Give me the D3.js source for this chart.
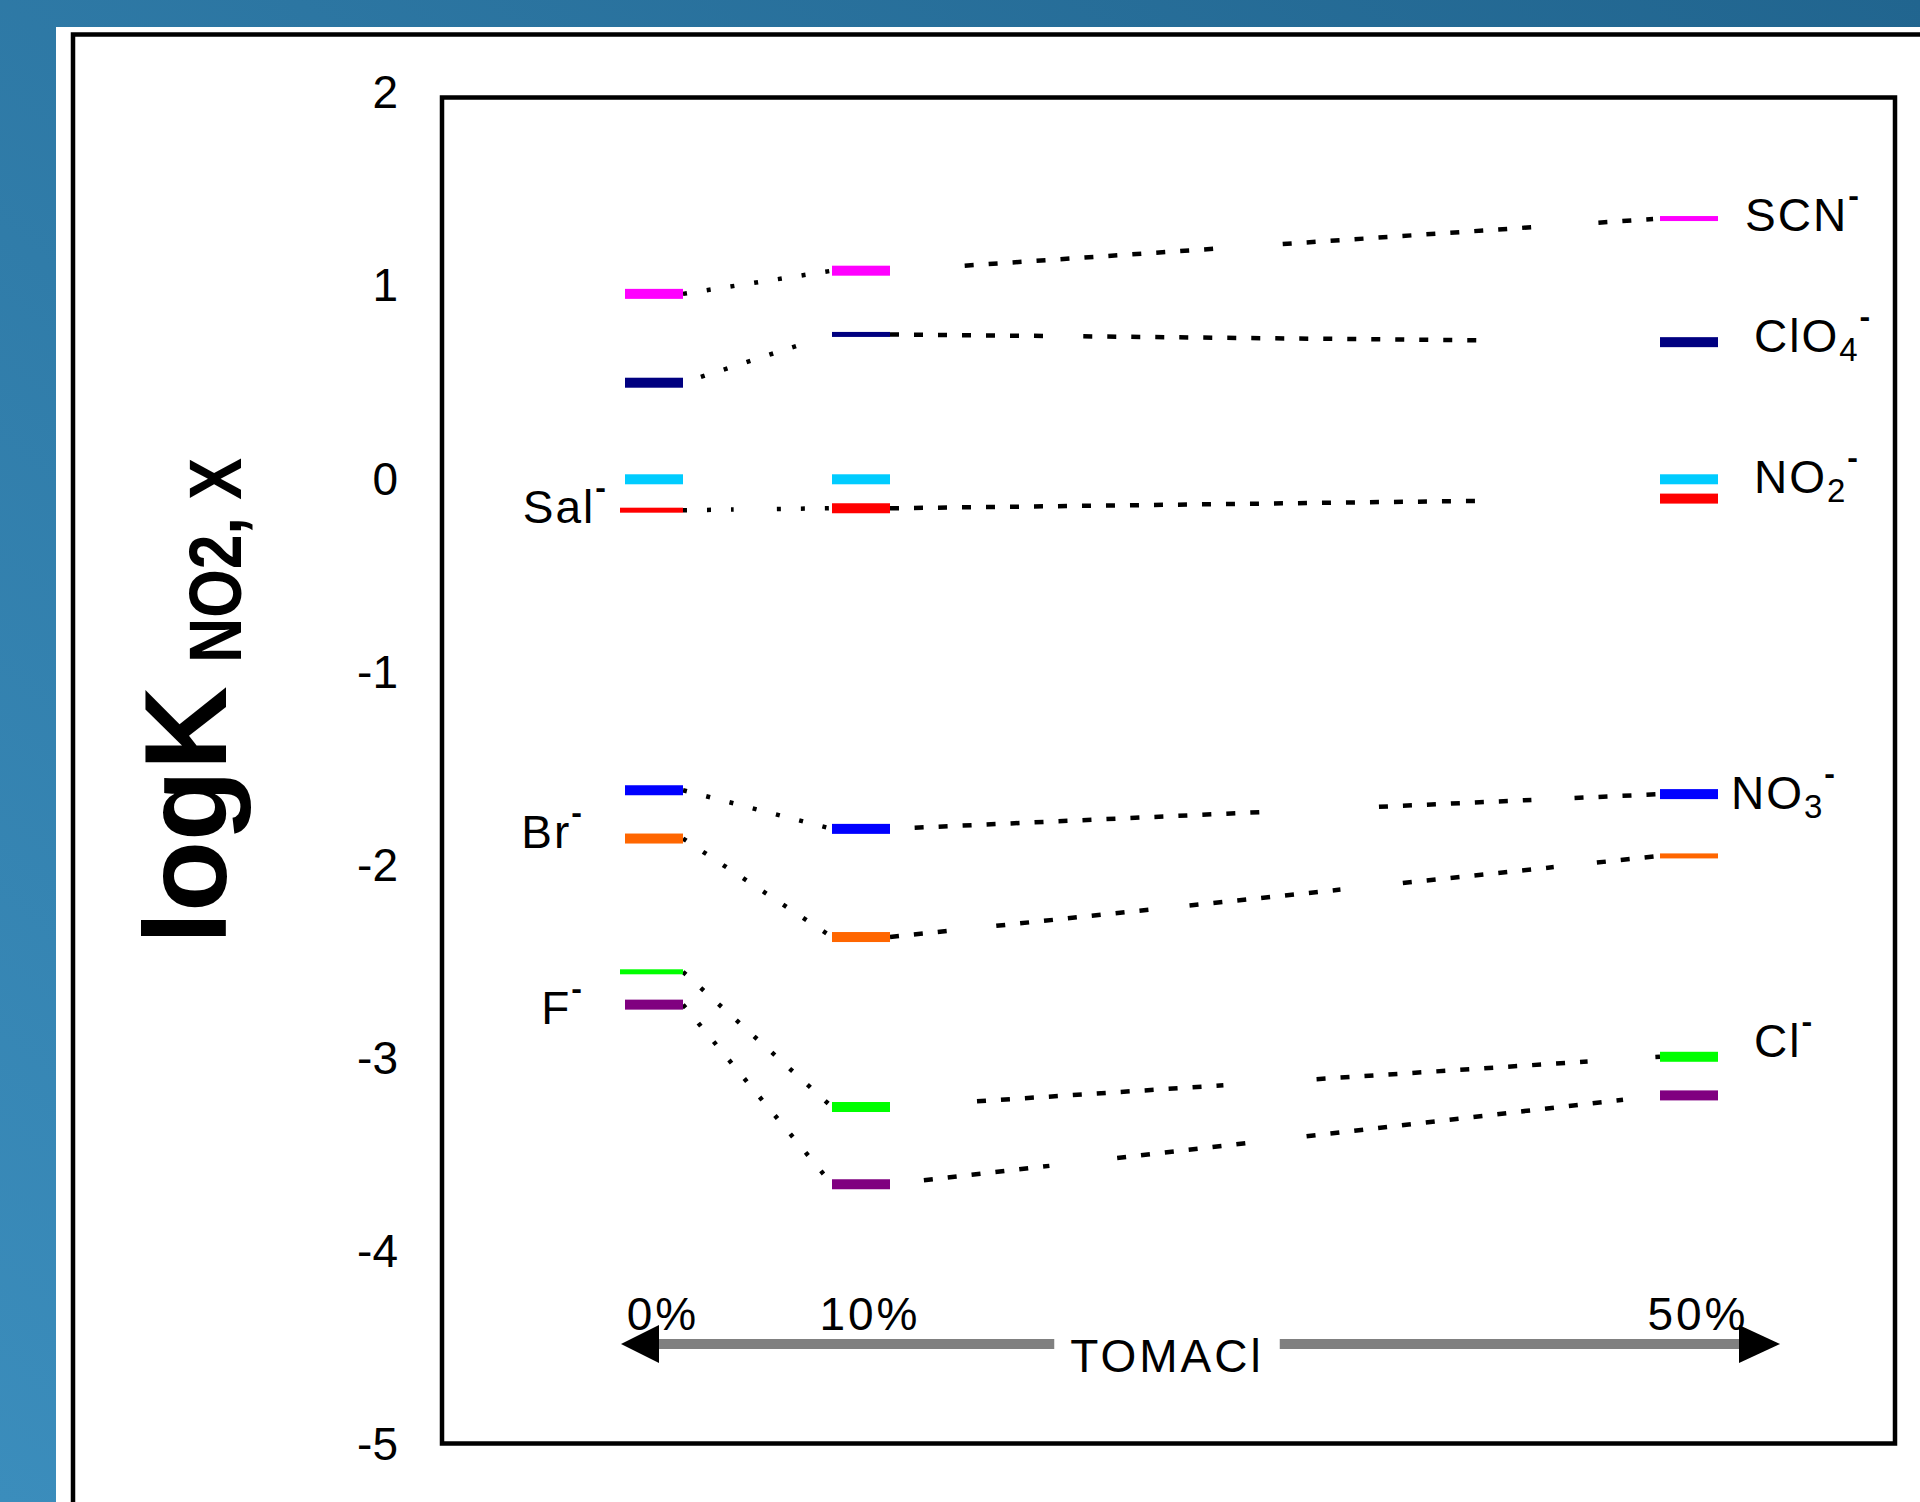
<!DOCTYPE html>
<html>
<head>
<meta charset="utf-8">
<script src="https://cdn.jsdelivr.net/npm/d3@7"></script>
<style>
  html, body { margin: 0; padding: 0; background: #fff; }
  svg { display: block; }
</style>
</head>
<body>
<svg id="chart" width="1920" height="1502"></svg>
<script>
// ---------------- DATA ----------------
const tomacl = [0, 10, 50];                       // % TOMACl in membrane
const xTickLabels = ["0%", "10%", "50%"];
const yTicks = [2, 1, 0, -1, -2, -3, -4, -5];
const ions = ["SCN-", "ClO4-", "NO2-", "Sal-", "NO3-", "Br-", "Cl-", "F-"];
const scnValues  = [0.96, 1.08, 1.35];
const clo4Values = [0.50, 0.75, 0.71];
const no2Values  = [0.00, 0.00, 0.00];
const salValues  = [-0.16, -0.15, -0.10];
const no3Values  = [-1.61, -1.81, -1.63];
const brValues   = [-1.86, -2.37, -1.95];
const clValues   = [-2.55, -3.25, -2.99];
const fValues    = [-2.72, -3.65, -3.19];
const labelMain  = ["SCN", "ClO", "NO", "Sal", "NO", "Br", "Cl", "F"];
const labelSub   = ["", "4", "2", "", "3", "", "", ""];
const axisTitle  = "logK";
const axisTitleSub = "NO2, X";
const xTitle = "TOMACl";

const valuesByIon = [scnValues, clo4Values, no2Values, salValues, no3Values, brValues, clValues, fValues];

// ---------------- STYLE ----------------
const FONT = "'Liberation Sans', Arial, Helvetica, sans-serif";
const colors = ["#ff00ff", "#000080", "#00ccff", "#ff0000", "#0000ff", "#ff6600", "#00ff00", "#800080"];
// thin (half-height) marks per ion & column
const thinMarks = {
  "SCN-": [0, 0, 1], "ClO4-": [0, 1, 0], "Sal-": [1, 0, 0],
  "Br-": [0, 0, 1], "Cl-": [1, 0, 0]
};
// which ions get dotted connectors
const connected = { "NO2-": false };
// hidden stretches of the dotted connectors (fractions along each segment)
const connectorGaps = {
  "SCN-":  [[], [[0, 0.097], [0.433, 0.51], [0.833, 0.92], [0.991, 1]]],
  "ClO4-": [[[0, 0.12], [0.8, 1]], [[0.204, 0.251], [0.77, 1]]],
  "Sal-":  [[[0.34, 0.63]], [[0.77, 1]]],
  "NO3-":  [[], [[0, 0.032], [0.492, 0.635], [0.833, 0.889]]],
  "Br-":   [[], [[0.088, 0.138], [0.34, 0.389], [0.585, 0.666], [0.862, 0.918]]],
  "Cl-":   [[], [[0, 0.113], [0.433, 0.554], [0.906, 0.994]]],
  "F-":    [[], [[0, 0.044], [0.207, 0.295], [0.466, 0.541], [0.952, 1]]]
};
// label placement: column, side, horizontal offset from bar edge, baseline offset
const labelLayout = {
  "SCN-":  { col: 2, side: "right", dx: 27, dy: 12 },
  "ClO4-": { col: 2, side: "right", dx: 36, dy: 10 },
  "NO2-":  { col: 2, side: "right", dx: 36, dy: 14 },
  "NO3-":  { col: 2, side: "right", dx: 13, dy: 15 },
  "Cl-":   { col: 2, side: "right", dx: 36, dy: 0 },
  "Sal-":  { col: 0, side: "left", dx: -19, dy: 12.5 },
  "Br-":   { col: 0, side: "left", dx: -43, dy: 9 },
  "F-":    { col: 0, side: "left", dx: -43, dy: 19 }
};

const series = ions.map((ion, k) => ({
  ion, values: valuesByIon[k], color: colors[k], main: labelMain[k], sub: labelSub[k]
}));

// ---------------- CANVAS ----------------
const W = 1920, H = 1502;
const svg = d3.select("#chart");
const defs = svg.append("defs");
const grad = defs.append("linearGradient").attr("id", "bg")
  .attr("x1", 0).attr("y1", 1).attr("x2", 1).attr("y2", 0);
grad.append("stop").attr("offset", 0).attr("stop-color", "#3b8dbc");
grad.append("stop").attr("offset", 1).attr("stop-color", "#21658f");
svg.append("rect").attr("width", W).attr("height", H).attr("fill", "url(#bg)");
svg.append("rect").attr("x", 56).attr("y", 27).attr("width", W - 56).attr("height", H - 27).attr("fill", "#fff");
svg.append("rect").attr("x", 73).attr("y", 34.5).attr("width", W).attr("height", H)
  .attr("fill", "none").attr("stroke", "#000").attr("stroke-width", 4.5);

// ---------------- SCALES ----------------
const x = d3.scaleLinear().domain([0, 50]).range([654, 1689]);
const y = d3.scaleLinear().domain([-5, 2]).range([1445, 93]);
const barW = 58;

// plot frame
svg.append("rect").attr("x", 442).attr("y", 97.5).attr("width", 1453).attr("height", 1346)
  .attr("fill", "none").attr("stroke", "#000").attr("stroke-width", 4.5);

// y axis
const yAxis = d3.axisLeft(y).tickValues(yTicks).tickFormat(d => String(d)).tickSize(0).tickPadding(44);
const gy = svg.append("g").attr("transform", "translate(442,0)").call(yAxis);
gy.select(".domain").remove();
gy.selectAll("text").attr("font-family", FONT).attr("font-size", 46).attr("fill", "#000");

// y axis title
svg.append("text")
  .attr("transform", "translate(226,944) rotate(-90)")
  .attr("font-family", FONT).attr("font-size", 116).attr("font-weight", "bold")
  .text(axisTitle);
svg.append("text")
  .attr("transform", "translate(241,663) rotate(-90)")
  .attr("font-family", FONT).attr("font-size", 75).attr("font-weight", "bold")
  .attr("textLength", 205).attr("lengthAdjust", "spacingAndGlyphs")
  .text(axisTitleSub);

// ---------------- CONNECTORS ----------------
function visiblePieces(gaps) {
  const out = []; let start = 0;
  gaps.slice().sort((a, b) => a[0] - b[0]).forEach(([a, b]) => {
    if (a > start) out.push([start, a]);
    start = Math.max(start, b);
  });
  if (start < 1) out.push([start, 1]);
  return out;
}
const gConn = svg.append("g");
series.forEach(s => {
  if (connected[s.ion] === false) return;
  for (let i = 0; i < tomacl.length - 1; i++) {
    const x0 = x(tomacl[i]) + barW / 2, y0 = y(s.values[i]);
    const x1 = x(tomacl[i + 1]) - barW / 2, y1 = y(s.values[i + 1]);
    const gaps = (connectorGaps[s.ion] || [[], []])[i] || [];
    visiblePieces(gaps).forEach(([a, b]) => {
      gConn.append("line")
        .attr("x1", x0 + (x1 - x0) * a).attr("y1", y0 + (y1 - y0) * a)
        .attr("x2", x0 + (x1 - x0) * b).attr("y2", y0 + (y1 - y0) * b)
        .attr("stroke", "#000").attr("stroke-width", 4.5)
        .attr("stroke-dasharray", i === 0 ? "4 20" : "9 15");
    });
  }
});

// ---------------- MARKS ----------------
const points = series.flatMap(s => s.values.map((v, i) => ({
  ion: s.ion, color: s.color, pct: tomacl[i], col: i, v,
  thin: !!(thinMarks[s.ion] && thinMarks[s.ion][i])
})));
svg.append("g").selectAll("rect").data(points).join("rect")
  .attr("x", d => x(d.pct) - barW / 2 - (d.thin && d.col === 0 ? 5 : 0))
  .attr("width", d => barW + (d.thin && d.col === 0 ? 5 : 0))
  .attr("y", d => y(d.v) - (d.thin ? 2.5 : 5))
  .attr("height", d => d.thin ? 5 : 10)
  .attr("fill", d => d.color);

// ---------------- ION LABELS ----------------
const gLab = svg.append("g").attr("font-family", FONT).attr("fill", "#000");
series.forEach(s => {
  const L = labelLayout[s.ion];
  const col = L.col;
  const baseline = y(s.values[col]) + L.dy;
  const xPos = L.side === "right" ? x(tomacl[col]) + barW / 2 + L.dx : x(tomacl[col]) - barW / 2 + L.dx;
  const t = gLab.append("text").attr("x", xPos).attr("y", baseline)
    .attr("text-anchor", L.side === "right" ? "start" : "end")
    .attr("font-size", 46).attr("letter-spacing", 2);
  t.append("tspan").text(s.main);
  let cur = 0;
  if (s.sub) { t.append("tspan").attr("dy", 9).attr("font-size", 33).text(s.sub); cur = 9; }
  t.append("tspan").attr("dy", -25 - cur).attr("font-size", 32).attr("font-weight", "bold")
    .attr("letter-spacing", 0).text("-");
});

// ---------------- TOMACl ARROW AXIS ----------------
const arrowY = 1344;
const leftTip = x(0) - 33, rightTip = x(50) + 91;
const gX = svg.append("g").attr("font-family", FONT).attr("fill", "#000");
const title = gX.append("text").attr("x", 1167).attr("y", 1372).attr("text-anchor", "middle")
  .attr("font-size", 46).attr("letter-spacing", 3).text(xTitle);
const bb = title.node().getBBox();
gX.append("line").attr("x1", leftTip + 30).attr("x2", bb.x - 16)
  .attr("y1", arrowY).attr("y2", arrowY).attr("stroke", "#808080").attr("stroke-width", 10);
gX.append("line").attr("x1", bb.x + bb.width + 16).attr("x2", rightTip - 40)
  .attr("y1", arrowY).attr("y2", arrowY).attr("stroke", "#808080").attr("stroke-width", 10);
gX.append("path").attr("d", `M${leftTip},${arrowY} L${leftTip + 38},${arrowY - 19} L${leftTip + 38},${arrowY + 19} Z`).attr("fill", "#000");
gX.append("path").attr("d", `M${rightTip},${arrowY} L${rightTip - 41},${arrowY - 19} L${rightTip - 41},${arrowY + 19} Z`).attr("fill", "#000");
gX.selectAll("text.pct").data(tomacl).join("text").attr("class", "pct")
  .attr("x", d => x(d) + 9).attr("y", 1330).attr("text-anchor", "middle")
  .attr("font-size", 46).attr("letter-spacing", 3)
  .text((d, i) => xTickLabels[i]);
</script>
</body>
</html>
